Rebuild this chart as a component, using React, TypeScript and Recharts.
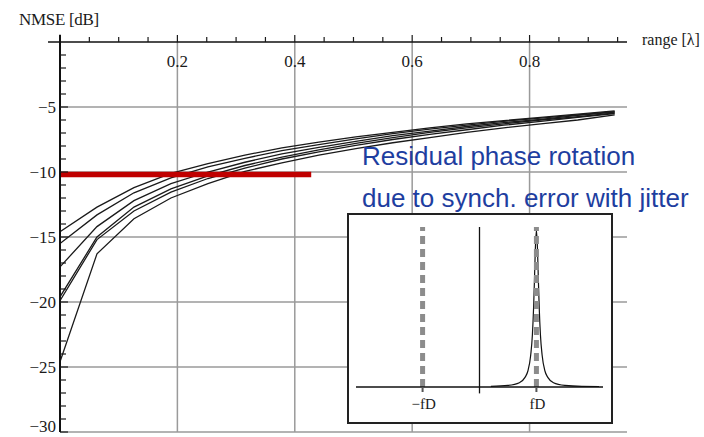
import React from "react";
import { LineChart, Line, XAxis, YAxis, CartesianGrid, ReferenceLine } from "recharts";

// range [λ] samples and NMSE [dB] curves
const RANGE = [0, 0.063, 0.126, 0.189, 0.252, 0.315, 0.378, 0.441, 0.504, 0.567, 0.63, 0.693, 0.756, 0.819, 0.882, 0.945];
const NMSE_A = [-14.6, -12.7, -11.2, -10.1, -9.35, -8.7, -8.15, -7.7, -7.3, -6.95, -6.6, -6.3, -6.05, -5.8, -5.55, -5.3];
const NMSE_B = [-15.5, -13.3, -11.6, -10.45, -9.6, -8.95, -8.35, -7.9, -7.45, -7.05, -6.7, -6.4, -6.1, -5.85, -5.6, -5.35];
const NMSE_C = [-17.3, -14.2, -12.2, -10.9, -10.0, -9.25, -8.6, -8.1, -7.65, -7.2, -6.85, -6.5, -6.2, -5.95, -5.65, -5.4];
const NMSE_D = [-19.6, -15.0, -12.7, -11.3, -10.3, -9.5, -8.85, -8.3, -7.8, -7.35, -6.95, -6.6, -6.3, -6.0, -5.75, -5.45];
const NMSE_E = [-19.9, -15.2, -13.0, -11.55, -10.5, -9.7, -9.0, -8.45, -7.95, -7.5, -7.1, -6.75, -6.4, -6.1, -5.8, -5.5];
const NMSE_F = [-24.6, -16.3, -13.6, -12.0, -10.9, -9.95, -9.3, -8.7, -8.2, -7.75, -7.35, -6.95, -6.6, -6.3, -6.0, -5.6];
const SERIES = [NMSE_A, NMSE_B, NMSE_C, NMSE_D, NMSE_E, NMSE_F];

// red threshold bar
const THRESHOLD_RANGE = [0, 0.428];
const THRESHOLD_DB = -10.2;

// axes
const X_MAX = 0.966;
const X_LABELS = [0.2, 0.4, 0.6, 0.8];
const X_TICKS = [0.05, 0.1, 0.15, 0.2, 0.25, 0.3, 0.35, 0.4, 0.45, 0.5, 0.55, 0.6, 0.65, 0.7, 0.75, 0.8, 0.85, 0.9, 0.95];
const Y_LABELS = [-5, -10, -15, -20, -25, -30];
const Y_TICKS = [-30, -29, -28, -27, -26, -25, -24, -23, -22, -21, -20, -19, -18, -17, -16, -15, -14, -13, -12, -11, -10, -9, -8, -7, -6, -5, -4, -3, -2, -1];

// inset: spectrum with Doppler lines
const DOPPLER = [-1, 1];
const DOPPLER_LABELS = ["\u2212fD", "fD"];
const SPECTRUM_F = [0.2, 0.5, 0.7, 0.8, 0.85, 0.9, 0.93, 0.95, 0.965, 0.98, 1.0, 1.02, 1.035, 1.05, 1.07, 1.1, 1.15, 1.2, 1.3, 1.5, 1.8, 2.1];
const SPECTRUM_P = [0.004, 0.01, 0.027, 0.06, 0.1, 0.2, 0.33, 0.49, 0.66, 0.85, 0.98, 0.85, 0.66, 0.49, 0.33, 0.2, 0.1, 0.06, 0.027, 0.01, 0.004, 0.003];
const INSET_X = 2.17;

const curveData = RANGE.map((r, i) => {
  const row: Record<string, number> = { range: r };
  SERIES.forEach((s, k) => (row["c" + k] = s[i]));
  return row;
});
const thresholdData = THRESHOLD_RANGE.map((r) => ({ range: r, db: THRESHOLD_DB }));
const spectrumData = SPECTRUM_F.map((f, i) => ({ f, p: SPECTRUM_P[i] }));

const PLOT_TOP = 42;
const PLOT_LEFT = 60;
const SERIF = "'Liberation Serif', 'DejaVu Serif', serif";
const INK = "#1a1a1a";

const isMajor = (v: number, list: number[]) => list.some((m) => Math.abs(m - v) < 1e-6);
const minus = (v: number) => (v < 0 ? "\u2212" + Math.abs(v) : String(v));

function XTick(props: any) {
  const { x, payload } = props;
  const major = isMajor(payload.value, X_LABELS);
  return (
    <g>
      <line x1={x} x2={x} y1={PLOT_TOP} y2={PLOT_TOP - (major ? 7 : 5)} stroke={INK} strokeWidth={1.2} />
      {major && (
        <text x={x} y={PLOT_TOP + 25} textAnchor="middle" fontFamily={SERIF} fontSize={17} fill={INK}>
          {payload.value.toFixed(1)}
        </text>
      )}
    </g>
  );
}

function YTick(props: any) {
  const { y, payload } = props;
  const major = isMajor(payload.value, Y_LABELS);
  // the bottom label sits at the picture edge; keep it inside
  const baseline = Math.min(y + 6, 432);
  return (
    <g>
      <line x1={PLOT_LEFT} x2={PLOT_LEFT + (major ? 8 : 6)} y1={y} y2={y} stroke={INK} strokeWidth={1.2} />
      {major && (
        <text x={PLOT_LEFT - 4} y={baseline} textAnchor="end" fontFamily={SERIF} fontSize={17} fill={INK}>
          {minus(payload.value)}
        </text>
      )}
    </g>
  );
}

function InsetTick(props: any) {
  const { x, payload } = props;
  const i = DOPPLER.indexOf(payload.value);
  return (
    <g>
      <line x1={x} x2={x} y1={172} y2={177} stroke="#555" strokeWidth={2} />
      <text x={x + 1} y={194} textAnchor="middle" fontFamily={SERIF} fontSize={15} fill={INK}>
        {DOPPLER_LABELS[i]}
      </text>
    </g>
  );
}

export default function App() {
  return (
    <div style={{ position: "absolute", left: 0, top: 0, width: 704, height: 437, background: "#fff", overflow: "hidden" }}>
      <LineChart width={704} height={437} data={curveData} margin={{ top: 12, right: 77, bottom: 5, left: 0 }}>
        <CartesianGrid stroke="#9a9a9a" strokeWidth={1.5} horizontalValues={Y_LABELS} verticalValues={X_LABELS} />
        <XAxis
          type="number"
          dataKey="range"
          orientation="top"
          domain={[0, X_MAX]}
          ticks={X_TICKS}
          interval={0}
          height={30}
          axisLine={false}
          tickLine={false}
          tick={<XTick />}
          allowDataOverflow
        />
        <YAxis
          type="number"
          domain={[-30, 0]}
          ticks={Y_TICKS}
          interval={0}
          width={60}
          axisLine={false}
          tickLine={false}
          tick={<YTick />}
          allowDataOverflow
        />
        {SERIES.map((_, k) => (
          <Line key={k} type="linear" dataKey={"c" + k} stroke={INK} strokeWidth={1.3} dot={false} isAnimationActive={false} />
        ))}
        <Line data={thresholdData} type="linear" dataKey="db" stroke="#c00000" strokeWidth={5.5} dot={false} isAnimationActive={false} />
        <ReferenceLine segment={[{ x: -0.0204, y: 0 }, { x: X_MAX, y: 0 }]} ifOverflow="visible" stroke="#111" strokeWidth={1.5} />
        <ReferenceLine segment={[{ x: 0, y: 0.55 }, { x: 0, y: -30 }]} ifOverflow="visible" stroke="#111" strokeWidth={2} />
      </LineChart>

      <div style={{ position: "absolute", left: 347, top: 213, width: 262, height: 207, border: "2px solid #222", background: "#fff" }}>
        <LineChart width={262} height={207} data={spectrumData} margin={{ top: 12, right: 8, bottom: 0, left: 7 }}>
          <XAxis
            type="number"
            dataKey="f"
            domain={[-INSET_X, INSET_X]}
            ticks={DOPPLER}
            interval={0}
            height={35}
            axisLine={false}
            tickLine={false}
            tick={<InsetTick />}
            allowDataOverflow
          />
          <YAxis type="number" domain={[0, 1]} hide allowDataOverflow />
          <Line type="monotone" dataKey="p" stroke="#111" strokeWidth={1.2} dot={false} isAnimationActive={false} />
          {DOPPLER.map((f) => (
            <ReferenceLine key={f} x={f} stroke="#8c8c8c" strokeWidth={5} strokeDasharray="8 5" />
          ))}
          <ReferenceLine y={0} stroke="#111" strokeWidth={1.5} />
          <ReferenceLine segment={[{ x: 0, y: 1 }, { x: 0, y: -0.04 }]} ifOverflow="visible" stroke="#111" strokeWidth={1.3} />
        </LineChart>
      </div>

      <svg width={704} height={437} style={{ position: "absolute", left: 0, top: 0, pointerEvents: "none" }}>
        <text x={19} y={25} fontFamily={SERIF} fontSize={17} fill={INK} letterSpacing={-0.3}>NMSE [dB]</text>
        <text x={642} y={45} fontFamily={SERIF} fontSize={16} fill={INK}>range [λ]</text>
        <text x={362} y={165} fontFamily="'Liberation Sans', Arial, sans-serif" fontSize={26} fill="#1e3ea0">Residual phase rotation</text>
        <text x={362} y={207} fontFamily="'Liberation Sans', Arial, sans-serif" fontSize={26} fill="#1e3ea0">due to synch. error with jitter</text>
      </svg>
    </div>
  );
}
